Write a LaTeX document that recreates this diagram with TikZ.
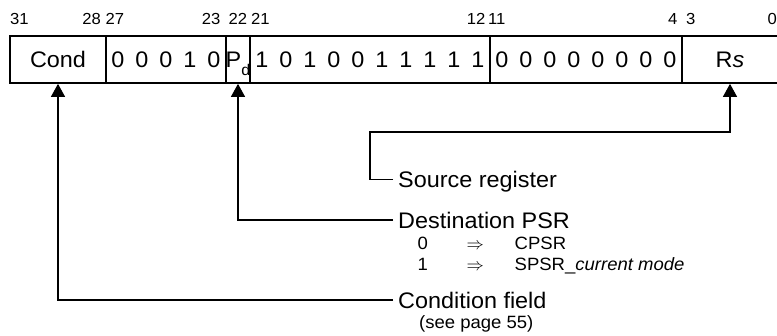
\documentclass[tikz,border=0pt]{standalone}
\usepackage{fontspec}
\setmainfont{Liberation Sans}[FakeStretch=1.04]
\usetikzlibrary{arrows.meta}

% font sizes used in the encoding diagram
\newcommand\fieldfont{\fontsize{22.5}{26}\selectfont}
\newcommand\labelfont{\fontsize{22.5}{26}\selectfont}
\newcommand\notefont{\fontsize{17.8}{21}\selectfont}
\newcommand\bitnumfont{\fontsize{16}{19}\selectfont}
% one bit position of the instruction word is 24pt wide
\newcommand\bitcell[1]{\makebox[24pt]{#1}}

\begin{document}
\begin{tikzpicture}[x=1pt,y=-1pt,
  field/.style={draw, line width=1.7pt, minimum height=47pt, inner sep=0pt,
                text height=16pt, text depth=0pt, font=\fieldfont},
  bitnum/.style={inner sep=0pt, font=\bitnumfont},
  fieldlabel/.style={anchor=west, inner xsep=5pt, inner ysep=0pt,
                     text height=16pt, text depth=0pt, font=\labelfont},
  note/.style={anchor=base west, inner sep=0pt, font=\notefont},
  conn/.style={line width=1.1pt},
  pointer/.style={conn, -{Triangle[width=14pt,length=13pt]}}]

\useasboundingbox (0,0) rectangle (777,335);

% instruction word fields
\node[field, minimum width=96pt]  (cond) at (58,59.5)  {Cond};
\node[field, minimum width=120pt] (op)   at (166,59.5)
  {\bitcell{0}\bitcell{0}\bitcell{0}\bitcell{1}\bitcell{0}};
\node[field, minimum width=24pt]  (pd)   at (238,59.5)
  {\makebox[24pt]{P\raisebox{-7.5pt}{\fontsize{15.5}{15.5}\selectfont d}}};
\node[field, minimum width=240pt] (mid)  at (370,59.5)
  {\bitcell{1}\bitcell{0}\bitcell{1}\bitcell{0}\bitcell{0}%
   \bitcell{1}\bitcell{1}\bitcell{1}\bitcell{1}\bitcell{1}};
\node[field, minimum width=192pt] (zero) at (586,59.5)
  {\bitcell{0}\bitcell{0}\bitcell{0}\bitcell{0}%
   \bitcell{0}\bitcell{0}\bitcell{0}\bitcell{0}};
\node[field, minimum width=96pt]  (rs)   at (730,59.5)  {R\textit{s}};

% bit numbers above the word
\node[bitnum, anchor=base west] (b31) at (10,24.5)    {31};
\node[bitnum, anchor=base east] (b28) at (101,24.5)   {28};
\node[bitnum, anchor=base west] (b27) at (105.5,24.5) {27};
\node[bitnum, anchor=base east] (b23) at (220.5,24.5) {23};
\node[bitnum, anchor=base]      (b22) at (238,24.5)   {22};
\node[bitnum, anchor=base west] (b21) at (251,24.5)   {21};
\node[bitnum, anchor=base east] (b12) at (485.5,24.5) {12};
\node[bitnum, anchor=base west] (b11) at (488,24.5)   {11};
\node[bitnum, anchor=base east] (b4)  at (677.5,24.5) {4};
\node[bitnum, anchor=base west] (b3)  at (686,24.5)   {3};
\node[bitnum, anchor=base west] (b0)  at (767.5,24.5) {0};

% field descriptions
\node[fieldlabel] (srclbl)  at (393,179.5) {Source register};
\node[fieldlabel] (destlbl) at (393,220)   {Destination PSR};
\node[fieldlabel] (condlbl) at (393,300)   {Condition field};

\node[note] (dest0) at (417.5,249)
  {\makebox[49pt][l]{0}\makebox[48pt][l]{$\Rightarrow$}CPSR};
\node[note] (dest1) at (417.5,270)
  {\makebox[49pt][l]{1}\makebox[48pt][l]{$\Rightarrow$}SPSR\_\textit{current mode}};
\node[note] (condref) at (419,328) {(see page 55)};

% leader lines from descriptions to fields
\coordinate (rsbend) at (370,132);
\draw[pointer] (srclbl.west) -| (rsbend) -| (rs.south);
\draw[pointer] (destlbl.west) -| (pd.south);
\draw[pointer] (condlbl.west) -| (cond.south);

\end{tikzpicture}
\end{document}
